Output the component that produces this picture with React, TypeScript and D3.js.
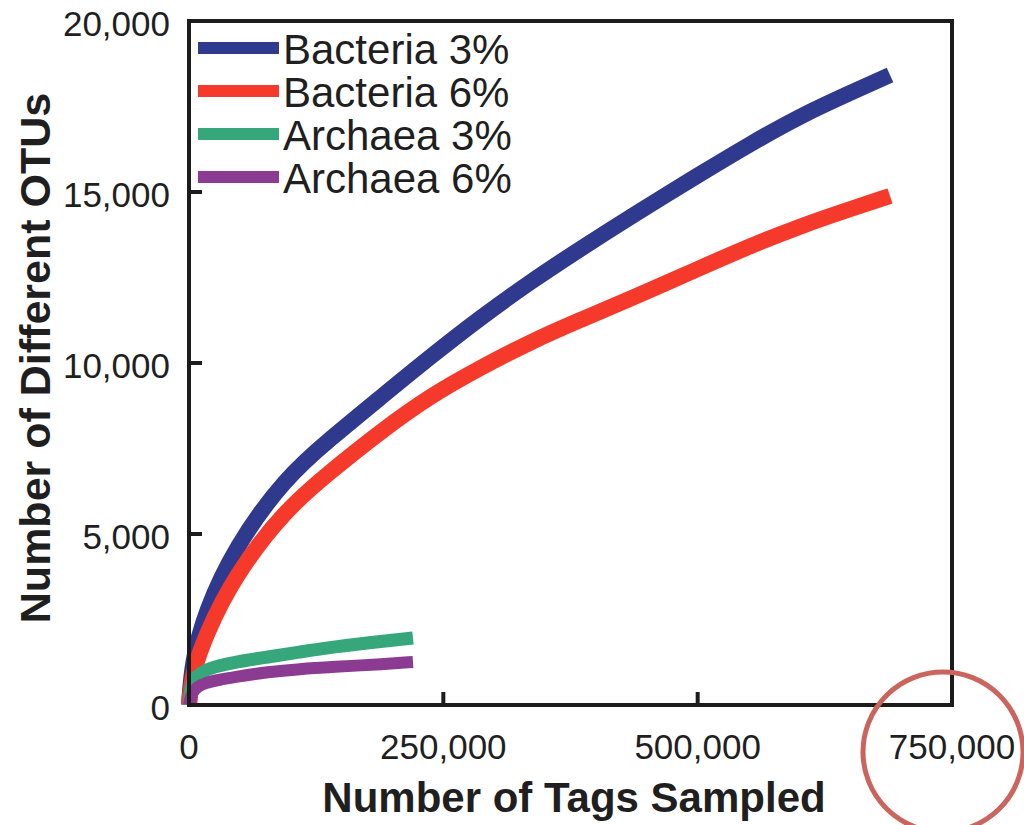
import React from 'react';
import * as d3 from 'd3';

// tags sampled (x) for each group
const bacteriaTags = [0, 2950, 15730, 45220, 94370, 138600, 187750, 236900, 286050, 335200, 384340, 433490, 502300, 551450, 600600, 649750, 689060];
const archaea3Tags = [0, 1970, 5900, 15730, 28510, 45220, 77660, 109100, 140560, 192660, 220180];
const archaea6Tags = [0, 983, 2950, 7860, 15730, 28510, 45220, 77660, 109100, 140560, 192660, 220180];

// OTU counts
const bacteria3 = [0, 1257, 2719, 4620, 6637, 7778, 8977, 10176, 11316, 12369, 13333, 14269, 15526, 16404, 17222, 17895, 18421];
const bacteria6 = [0, 877, 2018, 3801, 5702, 6813, 7983, 9035, 9854, 10614, 11257, 11871, 12778, 13420, 14000, 14500, 14883];
const archaea3 = [0, 585, 819, 1023, 1140, 1257, 1404, 1550, 1696, 1871, 1959];
const archaea6 = [0, 146, 351, 526, 643, 731, 819, 965, 1053, 1111, 1199, 1257];

const seriesNames = ['Bacteria 3%', 'Bacteria 6%', 'Archaea 3%', 'Archaea 6%'];
const seriesColors = ['#2f3a8e', '#f5392a', '#35a77a', '#8c3b92'];

const yTicks = [0, 5000, 10000, 15000, 20000];
const xTicks = [0, 250000, 500000, 750000];

const W = 1024;
const H = 825;
const font = '"Liberation Sans", Arial, Helvetica, sans-serif';

export default function App() {
  const left = 189, right = 952, top = 21, bottom = 705;

  const x = d3.scaleLinear().domain([0, 750000]).range([left, right]);
  const y = d3.scaleLinear().domain([0, 20000]).range([bottom, top]);

  const line = d3.line<[number, number]>()
    .x(d => x(d[0]))
    .y(d => y(d[1]))
    .curve(d3.curveBasis);

  const series = [
    { xs: bacteriaTags, ys: bacteria3, w: 16 },
    { xs: bacteriaTags, ys: bacteria6, w: 16 },
    { xs: archaea3Tags, ys: archaea3, w: 13 },
    { xs: archaea6Tags, ys: archaea6, w: 12 },
  ];

  const fmt = d3.format(',');

  return (
    <svg width={W} height={H} style={{ position: 'absolute', left: 0, top: 0, background: '#fff' }}>
      {/* curves */}
      {series.map((s, i) => (
        <path
          key={seriesNames[i]}
          d={line(s.xs.map((v, j) => [v, s.ys[j]] as [number, number])) || ''}
          fill="none"
          stroke={seriesColors[i]}
          strokeWidth={s.w}
          strokeLinecap="butt"
        />
      ))}

      {/* frame */}
      <rect x={left} y={top} width={right - left} height={bottom - top}
        fill="none" stroke="#1c1c1c" strokeWidth={4} />

      {/* y ticks */}
      {yTicks.map(t => (
        <g key={'y' + t}>
          <line x1={left} x2={left + 13} y1={y(t)} y2={y(t)} stroke="#1c1c1c" strokeWidth={4} />
          <text x={170} y={y(t) + 3} dy="0.35em" textAnchor="end"
            fontFamily={font} fontSize={35} fill="#1f1f1f">{fmt(t)}</text>
        </g>
      ))}

      {/* x ticks */}
      {xTicks.map(t => (
        <g key={'x' + t}>
          <line x1={x(t)} x2={x(t)} y1={bottom} y2={bottom - 13} stroke="#1c1c1c" strokeWidth={4} />
          <text x={x(t)} y={759} textAnchor="middle"
            fontFamily={font} fontSize={35} fill="#1f1f1f">{fmt(t)}</text>
        </g>
      ))}

      {/* axis titles */}
      <text x={574} y={812} textAnchor="middle" fontFamily={font} fontSize={42}
        fontWeight="bold" fill="#1f1f1f">Number of Tags Sampled</text>
      <text transform="translate(50,358) rotate(-90)" textAnchor="middle" fontFamily={font}
        fontSize={43} fontWeight="bold" fill="#1f1f1f">Number of Different OTUs</text>

      {/* legend */}
      {seriesNames.map((name, i) => {
        const ly = 48 + i * 43;
        return (
          <g key={'lg' + name}>
            <line x1={198} x2={279} y1={ly} y2={ly} stroke={seriesColors[i]} strokeWidth={12} />
            <text x={283} y={ly + 16} fontFamily={font} fontSize={42} fill="#1f1f1f">{name}</text>
          </g>
        );
      })}

      {/* annotation circle */}
      <circle cx={943} cy={752} r={80} fill="none" stroke="#cb645d" strokeWidth={5} />
    </svg>
  );
}
